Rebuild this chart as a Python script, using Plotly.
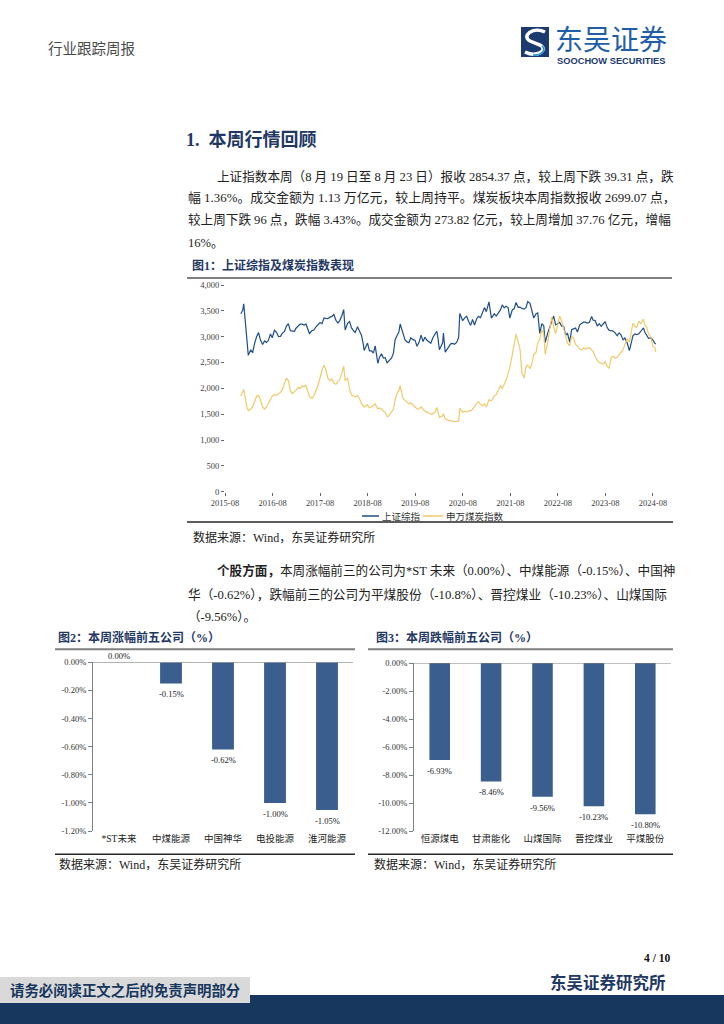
import plotly.graph_objects as go

W, H = 724, 1024


def px(x):
    return x / W


def py(y):
    return 1 - y / H


# ---------------- Figure 1 data: Shanghai Composite & SW Coal index ----------------
dates = [
    "2015-11-30", "2015-12-15", "2015-12-23",
    "2016-01-05", "2016-01-15", "2016-01-27", "2016-02-15", "2016-02-29", "2016-03-15", "2016-03-31",
    "2016-04-15", "2016-04-29", "2016-05-16", "2016-05-31", "2016-06-15", "2016-06-30", "2016-07-15",
    "2016-07-29", "2016-08-15", "2016-08-31", "2016-09-15", "2016-09-30", "2016-10-14", "2016-10-31",
    "2016-11-15", "2016-11-30", "2016-12-15", "2016-12-30",
    "2017-01-16", "2017-01-26", "2017-02-15", "2017-02-28", "2017-03-15", "2017-03-31", "2017-04-14",
    "2017-04-28", "2017-05-11", "2017-05-31", "2017-06-15", "2017-06-30", "2017-07-14", "2017-07-31",
    "2017-08-15", "2017-08-31", "2017-09-15", "2017-09-29", "2017-10-16", "2017-10-31", "2017-11-14",
    "2017-11-30", "2017-12-15", "2017-12-29",
    "2018-01-15", "2018-01-29", "2018-02-09", "2018-02-28", "2018-03-15", "2018-03-30", "2018-04-16",
    "2018-04-27", "2018-05-15", "2018-05-31", "2018-06-15", "2018-06-29", "2018-07-05", "2018-07-31",
    "2018-08-15", "2018-08-31", "2018-09-14", "2018-09-28", "2018-10-18", "2018-10-31", "2018-11-15",
    "2018-11-30", "2018-12-14", "2018-12-28",
    "2019-01-04", "2019-01-31", "2019-02-15", "2019-02-28", "2019-03-15", "2019-03-29", "2019-04-08",
    "2019-04-30", "2019-05-15", "2019-05-31", "2019-06-14", "2019-06-28", "2019-07-15", "2019-07-31",
    "2019-08-15", "2019-08-30", "2019-09-16", "2019-09-30", "2019-10-15", "2019-10-31", "2019-11-15",
    "2019-11-29", "2019-12-16", "2019-12-31",
    "2020-01-14", "2020-01-23", "2020-02-03", "2020-02-28", "2020-03-05", "2020-03-19", "2020-03-31",
    "2020-04-15", "2020-04-30", "2020-05-15", "2020-05-29", "2020-06-15", "2020-06-30", "2020-07-09",
    "2020-07-31", "2020-08-14", "2020-08-31", "2020-09-15", "2020-09-30", "2020-10-15", "2020-10-30",
    "2020-11-16", "2020-11-30", "2020-12-15", "2020-12-31",
    "2021-01-15", "2021-01-29", "2021-02-18", "2021-03-09", "2021-03-31", "2021-04-15", "2021-04-30",
    "2021-05-17", "2021-05-31", "2021-06-15", "2021-06-30", "2021-07-15", "2021-07-28", "2021-08-16",
    "2021-08-31", "2021-09-14", "2021-09-30", "2021-10-15", "2021-10-29", "2021-11-15", "2021-11-30",
    "2021-12-13", "2021-12-31",
    "2022-01-14", "2022-01-28", "2022-02-15", "2022-02-28", "2022-03-15", "2022-03-31", "2022-04-15",
    "2022-04-26", "2022-05-16", "2022-05-31", "2022-06-15", "2022-06-30", "2022-07-15", "2022-07-29",
    "2022-08-15", "2022-08-31", "2022-09-15", "2022-09-30", "2022-10-14", "2022-10-31", "2022-11-15",
    "2022-11-30", "2022-12-15", "2022-12-30",
    "2023-01-16", "2023-01-31", "2023-02-15", "2023-02-28", "2023-03-15", "2023-03-31", "2023-04-18",
    "2023-04-28", "2023-05-15", "2023-05-31", "2023-06-15", "2023-06-30", "2023-07-14", "2023-07-31",
    "2023-08-15", "2023-08-31", "2023-09-15", "2023-09-28", "2023-10-16", "2023-10-31", "2023-11-15",
    "2023-11-30", "2023-12-15", "2023-12-29",
    "2024-01-15", "2024-02-02", "2024-02-29", "2024-03-15", "2024-03-29", "2024-04-15", "2024-04-30",
    "2024-05-20", "2024-05-31", "2024-06-14", "2024-06-28", "2024-07-15", "2024-07-31", "2024-08-15",
    "2024-08-23",
]

sh_index = [
    3445, 3510, 3636,
    3287, 2900, 2638, 2746, 2688, 2864, 3004, 3078, 2938, 2850, 2917, 2888, 2930, 3054, 2979, 3125,
    3085, 3002, 3005, 3064, 3100, 3207, 3250, 3117, 3104,
    3103, 3159, 3212, 3242, 3241, 3223, 3246, 3155, 3061, 3117, 3132, 3192, 3222, 3273, 3251, 3361,
    3353, 3349, 3378, 3393, 3430, 3317, 3266, 3307,
    3410, 3523, 3129, 3259, 3291, 3169, 3110, 3082, 3192, 3095, 3022, 2847, 2733, 2876, 2724, 2725,
    2682, 2821, 2486, 2603, 2668, 2588, 2594, 2494,
    2514, 2585, 2682, 2941, 3022, 3091, 3245, 3078, 2939, 2899, 2882, 2979, 2942, 2933, 2815, 2886,
    3031, 2905, 2991, 2929, 2891, 2872, 2984, 3050,
    3106, 2977, 2746, 2880, 3071, 2702, 2750, 2811, 2860, 2868, 2852, 2890, 2985, 3451, 3310, 3360,
    3396, 3295, 3218, 3332, 3225, 3347, 3392, 3367, 3473,
    3566, 3483, 3675, 3360, 3442, 3398, 3447, 3518, 3615, 3556, 3591, 3565, 3361, 3517, 3544, 3662,
    3568, 3572, 3547, 3533, 3564, 3681, 3640,
    3521, 3361, 3446, 3462, 3064, 3252, 3211, 2887, 3073, 3186, 3305, 3399, 3228, 3253, 3276, 3202,
    3199, 3024, 3071, 2893, 3134, 3151, 3168, 3089,
    3228, 3256, 3280, 3280, 3263, 3273, 3393, 3323, 3311, 3205, 3252, 3202, 3237, 3291, 3176, 3120,
    3118, 3110, 3073, 3018, 3073, 3030, 2942, 2975,
    2886, 2730, 3015, 3054, 3041, 3057, 3105, 3171, 3087, 3033, 2967, 2975, 2939, 2877, 2854,
]

coal_index = [
    1850, 1930, 1980,
    1800, 1640, 1570, 1600, 1640, 1760, 1850, 1860, 1780, 1640, 1600, 1640, 1720, 1800, 1850, 1880,
    1860, 1900, 1920, 1980, 2100, 2200, 2150, 1960, 1900,
    1930, 1960, 2020, 2000, 2050, 2030, 2060, 1960, 1830, 1810, 1860, 1960, 2050, 2200, 2350, 2450,
    2350, 2200, 2150, 2180, 2100, 2080, 2120, 2170,
    2300, 2430, 2150, 2200, 1990, 1870, 1850, 1830, 1860, 1800, 1700, 1660, 1640, 1680, 1620, 1650,
    1660, 1700, 1600, 1620, 1600, 1560, 1540, 1460,
    1450, 1540, 1600, 1780, 1900, 1960, 2050, 1800, 1760, 1720, 1700, 1720, 1680, 1650, 1600, 1600,
    1640, 1600, 1560, 1540, 1520, 1500, 1510, 1540,
    1630, 1540, 1440, 1470, 1510, 1410, 1390, 1380, 1370, 1360, 1355, 1360, 1370, 1620, 1540, 1560,
    1540, 1570, 1560, 1600, 1640, 1710, 1740, 1690, 1660,
    1700, 1640, 1780, 1760, 1850, 1880, 1960, 2050, 2000, 2080, 2150, 2300, 2400, 2650, 2850, 3050,
    2900, 2750, 2300, 2200, 2420, 2450, 2380,
    2480, 2650, 2700, 2880, 2950, 3130, 3050, 2660, 2900, 3150, 3380, 3200, 3060, 3200, 3400, 3300,
    3150, 2980, 2880, 2820, 3000, 2980, 2850, 2820,
    2760, 2740, 2780, 2760, 2770, 2790, 2740, 2720, 2620, 2540, 2500, 2480, 2470, 2520, 2420, 2390,
    2600, 2620, 2580, 2600, 2640, 2700, 2750, 2850,
    2960, 2900, 3260, 3200, 3180, 3300, 3250, 3340, 3220, 3180, 3050, 3000, 2820, 2790, 2699,
]
assert len(dates) == len(sh_index) == len(coal_index)

series_names = ["上证综指", "申万煤炭指数"]
x_tick_vals = ["2015-08-01", "2016-08-01", "2017-08-01", "2018-08-01", "2019-08-01",
               "2020-08-01", "2021-08-01", "2022-08-01", "2023-08-01", "2024-08-01"]
x_tick_text = ["2015-08", "2016-08", "2017-08", "2018-08", "2019-08",
               "2020-08", "2021-08", "2022-08", "2023-08", "2024-08"]
y1_tick_vals = [0, 500, 1000, 1500, 2000, 2500, 3000, 3500, 4000]
y1_tick_text = ["0", "500", "1,000", "1,500", "2,000", "2,500", "3,000", "3,500", "4,000"]

# ---------------- Figure 2 data: top-5 gainers ----------------
up_names = ["*ST未来", "中煤能源", "中国神华", "电投能源", "淮河能源"]
up_values = [0.00, -0.15, -0.62, -1.00, -1.05]
up_labels = ["0.00%", "-0.15%", "-0.62%", "-1.00%", "-1.05%"]
y2_tick_vals = [0, -0.2, -0.4, -0.6, -0.8, -1.0, -1.2]
y2_tick_text = ["0.00%", "-0.20%", "-0.40%", "-0.60%", "-0.80%", "-1.00%", "-1.20%"]

# ---------------- Figure 3 data: top-5 losers ----------------
down_names = ["恒源煤电", "甘肃能化", "山煤国际", "晋控煤业", "平煤股份"]
down_values = [-6.93, -8.46, -9.56, -10.23, -10.80]
down_labels = ["-6.93%", "-8.46%", "-9.56%", "-10.23%", "-10.80%"]
y3_tick_vals = [0, -2, -4, -6, -8, -10, -12]
y3_tick_text = ["0.00%", "-2.00%", "-4.00%", "-6.00%", "-8.00%", "-10.00%", "-12.00%"]

# ---------------- styles ----------------
NAVY = "#1f3864"
BAND = "#17375e"
BLUE_LINE = "#1f4e89"
GOLD_LINE = "#f0c96a"
BAR_COLOR = "#3a5f8e"
SERIF_CJK = "Liberation Serif, Noto Sans CJK SC, serif"
SANS_CJK = "Noto Sans CJK SC, sans-serif"
axis_font = dict(family="Liberation Serif, serif", size=8.5, color="#404040")
bar_axis_font = dict(family="Liberation Serif, serif", size=8.5, color="#333333")
cat_font = dict(family=SERIF_CJK, size=9.5, color="#222222")

fig = go.Figure()
fig.add_trace(go.Scatter(x=dates, y=sh_index, name=series_names[0], mode="lines",
                         line=dict(color=BLUE_LINE, width=1.2), xaxis="x", yaxis="y"))
fig.add_trace(go.Scatter(x=dates, y=coal_index, name=series_names[1], mode="lines",
                         line=dict(color=GOLD_LINE, width=1.2), xaxis="x", yaxis="y"))
fig.add_trace(go.Bar(x=up_names, y=up_values, width=0.42, marker=dict(color=BAR_COLOR, line=dict(width=0)),
                     xaxis="x2", yaxis="y2"))
fig.add_trace(go.Bar(x=down_names, y=down_values, width=0.40, marker=dict(color=BAR_COLOR, line=dict(width=0)),
                     xaxis="x3", yaxis="y3"))

common = dict(automargin=False, showgrid=False, zeroline=False)
fig.update_layout(
    width=W, height=H, autosize=False,
    margin=dict(l=0, r=0, t=0, b=0, pad=0, autoexpand=False),
    paper_bgcolor="white", plot_bgcolor="white", showlegend=False,
    xaxis=dict(domain=[px(225), px(657)], range=["2015-08-01", "2024-09-01"], type="date",
               tickvals=x_tick_vals, ticktext=x_tick_text, ticks="outside", ticklen=3,
               tickcolor="#666666", showline=False, tickfont=axis_font, anchor="y", **common),
    yaxis=dict(domain=[py(491.7), py(285)], range=[0, 4000], tickvals=y1_tick_vals,
               ticktext=y1_tick_text, ticks="outside", ticklen=3, tickcolor="#666666",
               showline=False, tickfont=axis_font, anchor="x", **common),
    xaxis2=dict(domain=[px(93), px(353)], anchor="y2", type="category", range=[-0.5, 4.5],
                showline=False, ticks="", tickfont=cat_font, **common),
    yaxis2=dict(domain=[py(831), py(662.3)], anchor="x2", range=[-1.2, 0], tickvals=y2_tick_vals,
                ticktext=y2_tick_text, showline=True, linecolor="#808080", linewidth=1,
                ticks="outside", ticklen=4, tickcolor="#808080", tickfont=bar_axis_font, **common),
    xaxis3=dict(domain=[px(414), px(671)], anchor="y3", type="category", range=[-0.5, 4.5],
                showline=False, ticks="", tickfont=cat_font, **common),
    yaxis3=dict(domain=[py(831), py(663)], anchor="x3", range=[-12, 0], tickvals=y3_tick_vals,
                ticktext=y3_tick_text, showline=True, linecolor="#808080", linewidth=1,
                ticks="outside", ticklen=4, tickcolor="#808080", tickfont=bar_axis_font, **common),
)

annotations = []
shapes = []


def text(x, y, s, size, color="#222222", family=SERIF_CJK, anchor="left"):
    annotations.append(dict(x=px(x), y=py(y), xref="paper", yref="paper", text=s, showarrow=False,
                            xanchor=anchor, yanchor="middle",
                            font=dict(size=size, color=color, family=family)))


def hline(x0, x1, y, color, width):
    shapes.append(dict(type="line", xref="paper", yref="paper", x0=px(x0), x1=px(x1),
                       y0=py(y), y1=py(y), line=dict(color=color, width=width)))


def rect(x0, y0, x1, y1, color):
    shapes.append(dict(type="rect", xref="paper", yref="paper", x0=px(x0), x1=px(x1),
                       y0=py(y1), y1=py(y0), fillcolor=color, line=dict(width=0), layer="below"))


def path(cmds, color, width):
    parts = []
    for c, pts in cmds:
        parts.append(c + " " + " ".join(f"{px(a):.5f},{py(b):.5f}" for a, b in pts))
    shapes.append(dict(type="path", xref="paper", yref="paper", path=" ".join(parts),
                       line=dict(color=color, width=width), fillcolor="rgba(0,0,0,0)"))


# ---------------- header ----------------
text(46, 47, "行业跟踪周报", 14.5, "#4a4a4a", SANS_CJK)
rect(521, 27, 549, 57, "#1b3a6f")
path([("M", [(545, 32)]), ("C", [(533, 26), (521, 36), (530, 41)]), ("L", [(540, 45)]),
      ("C", [(549, 50), (537, 58), (525, 52)])], "white", 3.5)
path([("M", [(542, 46)]), ("C", [(547, 50), (541, 56), (533, 55)])], "#2b8fd9", 1.6)
text(553, 37.5, "东吴证券", 28, "#1f5fa8", SANS_CJK)
text(555, 60.5, "<b>SOOCHOW SECURITIES</b>", 9.3, "#1b3a6f", "Liberation Sans, Arial, sans-serif")

# ---------------- section text ----------------
text(184, 140, "<b>1.  本周行情回顾</b>", 18, NAVY, SERIF_CJK)
para_size = 12.6
text(215, 176, "上证指数本周（8 月 19 日至 8 月 23 日）报收 2854.37 点，较上周下跌 39.31 点，跌", para_size)
text(186, 197, "幅 1.36%。成交金额为 1.13 万亿元，较上周持平。煤炭板块本周指数报收 2699.07 点，", 12.9)
text(186, 219, "较上周下跌 96 点，跌幅 3.43%。成交金额为 273.82 亿元，较上周增加 37.76 亿元，增幅", 12.6)
text(186, 243, "16%。", para_size)

text(190, 265, "<b>图1：上证综指及煤炭指数表现</b>", 12, NAVY, SERIF_CJK)
hline(187, 672, 278, "#7f7f7f", 2)
hline(187, 673, 522, "#262626", 1.5)

# legend for fig 1
hline(362, 379, 516, BLUE_LINE, 1.5)
text(380, 516, series_names[0], 9.5, "#333333", SANS_CJK)
hline(423, 443, 516, GOLD_LINE, 1.5)
text(444, 516, series_names[1], 9.5, "#333333", SANS_CJK)
text(191, 537, "数据来源：Wind，东吴证券研究所", 12)

text(215, 570, "<b>个股方面，</b>本周涨幅前三的公司为*ST 未来（0.00%）、中煤能源（-0.15%）、中国神", para_size)
text(186, 594, "华（-0.62%），跌幅前三的公司为平煤股份（-10.8%）、晋控煤业（-10.23%）、山煤国际", 12.7)
text(186, 617, "（-9.56%）。", para_size)

# fig 2 / fig 3 frames
text(56, 637, "<b>图2：本周涨幅前五公司（%）</b>", 12, NAVY, SERIF_CJK)
text(374, 637, "<b>图3：本周跌幅前五公司（%）</b>", 12, NAVY, SERIF_CJK)
hline(55, 355, 649.3, "#7f7f7f", 2)
hline(368, 673, 649.3, "#7f7f7f", 2)
hline(55, 355, 854.3, "#262626", 1.5)
hline(368, 673, 854.3, "#262626", 1.5)
text(57, 864, "数据来源：Wind，东吴证券研究所", 12)
text(372, 864, "数据来源：Wind，东吴证券研究所", 12)

# zero lines of bar charts (top axis line)
for xa, ya in (("x2", "y2"), ("x3", "y3")):
    shapes.append(dict(type="line", xref=f"{xa} domain", yref=ya, x0=0, x1=1, y0=0, y1=0,
                       line=dict(color="#808080", width=1)))

# value labels for bars
for names, vals, labs, xa, ya in ((up_names, up_values, up_labels, "x2", "y2"),
                                  (down_names, down_values, down_labels, "x3", "y3")):
    for n, v, l in zip(names, vals, labs):
        annotations.append(dict(x=n, y=v, xref=xa, yref=ya, text=l, showarrow=False,
                                xanchor="center", yanchor="middle",
                                yshift=6 if v >= 0 else -11,
                                font=dict(size=8.5, color="#222222", family="Liberation Serif, serif")))

# ---------------- footer ----------------
text(672, 958, "<b>4 / 10</b>", 11.5, "#111111", "Liberation Serif, serif", anchor="right")
text(668, 983, "<b>东吴证券研究所</b>", 16.5, NAVY, SERIF_CJK, anchor="right")
rect(0, 995, 724, 1024, BAND)
rect(0, 977, 250, 1003, "#d9d9d9")
text(8, 990, "<b>请务必阅读正文之后的免责声明部分</b>", 14.4, BAND, SERIF_CJK)

fig.update_layout(annotations=annotations, shapes=shapes)
fig.write_html("out.html", config={"displayModeBar": False},
               post_script="document.body.style.margin='0px';document.body.style.overflow='hidden';")
